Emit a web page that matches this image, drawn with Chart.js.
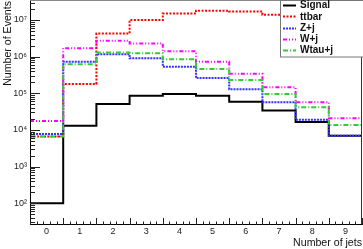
<!DOCTYPE html>
<html>
<head>
<meta charset="utf-8">
<script src="https://cdn.jsdelivr.net/npm/chart.js@4"></script>
<style>
html,body{margin:0;padding:0;background:#fff;}
#wrap{width:363px;height:249px;position:relative;}
</style>
</head>
<body>
<div id="wrap"><canvas id="c" width="363" height="249"></canvas></div>
<script>
// ---- data ----
const jetBins = [0, 1, 2, 3, 4, 5, 6, 7, 8, 9];
const signal = [100, 1.3e4, 5.1e4, 8.6e4, 9.6e4, 8.6e4, 5.9e4, 3.4e4, 1.65e4, 7.0e3];
const ttbar  = [6.6e3, 1.8e5, 4.3e6, 1.0e7, 1.5e7, 1.8e7, 1.7e7, 1.4e7, 1.0e7, 6.0e6];
const zj     = [7.8e3, 7.3e5, 1.16e6, 9.0e5, 5.3e5, 2.6e5, 1.3e5, 5.7e4, 1.9e4, 7.0e3];
const wj     = [1.75e4, 1.7e6, 2.7e6, 2.3e6, 1.4e6, 7.3e5, 3.4e5, 1.46e5, 5.7e4, 2.1e4];
const wtauj  = [6.6e3, 6.2e5, 1.3e6, 1.24e6, 8.5e5, 4.6e5, 2.3e5, 9.6e4, 4.2e4, 1.37e4];
const yTickValues = [1e2, 1e3, 1e4, 1e5, 1e6, 1e7];
const yTickLabels = ['10²', '10³', '10⁴', '10⁵', '10⁶', '10⁷'];
const seriesNames = ['Signal', 'ttbar', 'Z+j', 'W+j', 'Wtau+j'];

// histogram outline: each bin gives its two edges
function histPoints(vals) {
  const pts = [];
  vals.forEach((v, i) => {
    pts.push({x: jetBins[i] - 0.5, y: v});
    pts.push({x: jetBins[i] + 0.5, y: v});
  });
  return pts;
}

const styles = [
  {color: '#000000', dash: [], order: 5},
  {color: '#ff0000', dash: [2, 1.5], order: 4},
  {color: '#3333ff', dash: [2, 1], order: 3},
  {color: '#ff00ff', dash: [4, 2, 1, 2, 1, 2], order: 2},
  {color: '#33cc33', dash: [5, 2, 1, 2], order: 1}
];
const allVals = [signal, ttbar, zj, wj, wtauj];

const datasets = allVals.map((vals, i) => ({
  label: seriesNames[i],
  data: histPoints(vals),
  borderColor: styles[i].color,
  borderDash: styles[i].dash,
  borderWidth: 2,
  pointRadius: 0,
  fill: false,
  tension: 0,
  order: styles[i].order,
  borderJoinStyle: 'miter',
  borderCapStyle: 'butt'
}));

const FONT = '"Liberation Sans", Arial, Helvetica, sans-serif';

const framePlugin = {
  id: 'frame',
  afterDatasetsDraw(chart) {
    const ctx = chart.ctx;
    const a = chart.chartArea;
    const xs = chart.scales.x, ys = chart.scales.y;
    ctx.save();
    ctx.lineWidth = 1;
    ctx.strokeStyle = '#888';
    ctx.beginPath();
    ctx.moveTo(a.left, a.top - 0.5); ctx.lineTo(a.right, a.top - 0.5);
    ctx.stroke();
    ctx.strokeStyle = '#333';
    ctx.beginPath();
    ctx.moveTo(a.right - 0.5, a.top); ctx.lineTo(a.right - 0.5, a.bottom);
    ctx.stroke();
    ctx.strokeStyle = '#000';
    ctx.beginPath();
    ctx.moveTo(a.left + 0.5, a.top); ctx.lineTo(a.left + 0.5, a.bottom);
    ctx.moveTo(a.left, a.bottom - 0.5); ctx.lineTo(a.right, a.bottom - 0.5);
    ctx.stroke();
    ctx.strokeStyle = '#222';
    ctx.beginPath();
    for (let k = 0; k <= 50; k++) {
      const v = xs.min + 0.2 * k;
      const px = Math.round(xs.getPixelForValue(v)) + 0.5;
      const len = (k % 5 === 0) ? 7 : 3.5;
      ctx.moveTo(px, a.bottom); ctx.lineTo(px, a.bottom - len);
    }
    ctx.stroke();
    ctx.beginPath();
    for (let e = 1; e <= 7; e++) {
      for (let m = 1; m <= 9; m++) {
        const v = m * Math.pow(10, e);
        if (v < ys.min || v > ys.max) continue;
        const py = Math.round(ys.getPixelForValue(v)) + 0.5;
        const len = (m === 1) ? 10 : 5;
        ctx.moveTo(a.left, py); ctx.lineTo(a.left + len, py);
      }
    }
    ctx.stroke();
    ctx.restore();
  }
};

const legendPlugin = {
  id: 'boxLegend',
  afterDraw(chart) {
    const ctx = chart.ctx;
    const bx = 280, by = 0, bw = 83, bh = 57;
    ctx.save();
    ctx.fillStyle = '#fff';
    ctx.fillRect(bx, by, bw, bh);
    ctx.strokeStyle = '#777';
    ctx.lineWidth = 1;
    ctx.strokeRect(bx + 0.5, by + 0.5, bw, bh - 0.5);
    ctx.font = 'bold 10px ' + FONT;
    ctx.textBaseline = 'middle';
    ctx.textAlign = 'left';
    chart.data.datasets.forEach((ds, i) => {
      const y = 5 + i * 11.3;
      ctx.strokeStyle = ds.borderColor;
      ctx.setLineDash(ds.borderDash);
      ctx.lineWidth = 2;
      ctx.beginPath();
      ctx.moveTo(283, Math.round(y) + 0.5); ctx.lineTo(296, Math.round(y) + 0.5);
      ctx.stroke();
      ctx.setLineDash([]);
      ctx.fillStyle = '#111';
      ctx.fillText(ds.label, 300, y + 0.5);
    });
    ctx.restore();
  }
};

new Chart(document.getElementById('c'), {
  type: 'line',
  data: {datasets},
  options: {
    responsive: false,
    animation: false,
    events: [],
    layout: {padding: {top: 1, right: 1, left: 0, bottom: 0}},
    plugins: {legend: {display: false}, tooltip: {enabled: false}},
    scales: {
      x: {
        type: 'linear',
        min: -0.5,
        max: 9.5,
        grid: {display: false, drawTicks: false},
        border: {display: false},
        afterBuildTicks: s => { s.ticks = jetBins.map(v => ({value: v})); },
        afterFit: s => { s.height = 24; s.paddingLeft = 0; s.paddingRight = 0; },
        ticks: {
          autoSkip: false, maxRotation: 0, padding: 1,
          color: '#222', font: {family: FONT, size: 9},
          callback: v => String(v)
        },
        title: {
          display: true, text: 'Number of jets', align: 'end',
          color: '#111', font: {family: FONT, size: 10.6},
          padding: {top: 0, bottom: 0}
        }
      },
      y: {
        type: 'logarithmic',
        min: 25.6,
        max: 3.3e7,
        grid: {display: false, drawTicks: false},
        border: {display: false},
        afterBuildTicks: s => { s.ticks = yTickValues.map(v => ({value: v})); },
        afterFit: s => { s.width = 30; s.paddingTop = 0; s.paddingBottom = 0; },
        ticks: {
          autoSkip: false, padding: 3,
          color: '#222', font: {family: FONT, size: 9},
          callback: v => { const i = yTickValues.indexOf(v); return i >= 0 ? yTickLabels[i] : ''; }
        },
        title: {
          display: true, text: 'Number of Events', align: 'end',
          color: '#111', font: {family: FONT, size: 10.6},
          padding: {top: 2, bottom: 0}
        }
      }
    }
  },
  plugins: [framePlugin, legendPlugin]
});
</script>
</body>
</html>
